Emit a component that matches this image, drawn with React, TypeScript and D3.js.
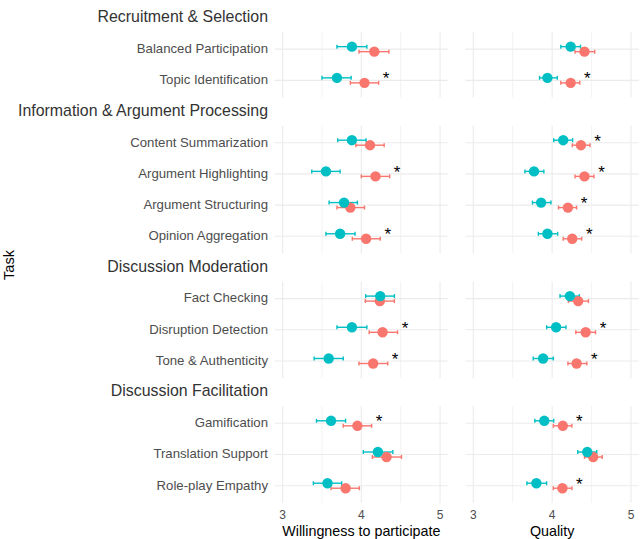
import * as d3 from "d3";

// Task groups and rows (top to bottom)
const groupNames = [
  "Recruitment & Selection",
  "Information & Argument Processing",
  "Discussion Moderation",
  "Discussion Facilitation",
];
const groupSizes = [2, 4, 3, 3];
const tasks = [
  "Balanced Participation",
  "Topic Identification",
  "Content Summarization",
  "Argument Highlighting",
  "Argument Structuring",
  "Opinion Aggregation",
  "Fact Checking",
  "Disruption Detection",
  "Tone & Authenticity",
  "Gamification",
  "Translation Support",
  "Role-play Empathy",
];

// Willingness to participate
const willTeal = [3.88, 3.69, 3.88, 3.55, 3.78, 3.73, 4.24, 3.88, 3.585, 3.615, 4.21, 3.57];
const willTealLo = [3.69, 3.5, 3.7, 3.37, 3.59, 3.55, 4.055, 3.69, 3.4, 3.43, 4.025, 3.39];
const willTealHi = [4.07, 3.87, 4.06, 3.73, 3.95, 3.92, 4.42, 4.07, 3.77, 3.8, 4.4, 3.75];
const willRed = [4.165, 4.04, 4.11, 4.18, 3.86, 4.06, 4.235, 4.27, 4.15, 3.95, 4.32, 3.8];
const willRedLo = [3.97, 3.86, 3.93, 4.0, 3.69, 3.885, 4.05, 4.1, 3.97, 3.77, 4.14, 3.615];
const willRedHi = [4.35, 4.22, 4.29, 4.36, 4.04, 4.24, 4.42, 4.46, 4.335, 4.13, 4.51, 3.975];
const willSig = [false, true, false, true, false, true, false, true, true, true, false, false];

// Quality
const qualTeal = [4.235, 3.94, 4.14, 3.77, 3.86, 3.94, 4.225, 4.05, 3.885, 3.9, 4.445, 3.8];
const qualTealLo = [4.11, 3.84, 4.02, 3.655, 3.75, 3.825, 4.1, 3.93, 3.76, 3.78, 4.325, 3.68];
const qualTealHi = [4.36, 4.065, 4.26, 3.895, 3.985, 4.07, 4.345, 4.175, 4.015, 4.02, 4.565, 3.93];
const qualRed = [4.41, 4.235, 4.365, 4.41, 4.2, 4.255, 4.33, 4.425, 4.31, 4.135, 4.52, 4.13];
const qualRedLo = [4.29, 4.11, 4.255, 4.29, 4.08, 4.14, 4.205, 4.3, 4.2, 4.015, 4.41, 4.015];
const qualRedHi = [4.54, 4.35, 4.48, 4.53, 4.31, 4.375, 4.46, 4.55, 4.44, 4.25, 4.635, 4.25];
const qualSig = [false, true, true, true, true, true, false, true, true, true, false, true];

const xTicks = [3, 4, 5];
const xMinor = [3.5, 4.5];

const TEAL = "#00BFC4";
const RED = "#F8766D";
const GRID = "#ebebeb";
const FONT = "'Liberation Sans', Arial, Helvetica, sans-serif";

const W = 640;
const H = 539;
const STEP = 31.2;
const PAD = 0.55;
const GAP = 28;
const FIRST_TOP = 32;

type Panel = {
  title: string;
  x: d3.ScaleLinear<number, number>;
  teal: number[];
  tealLo: number[];
  tealHi: number[];
  red: number[];
  redLo: number[];
  redHi: number[];
  sig: boolean[];
};

const panels: Panel[] = [
  {
    title: "Willingness to participate",
    x: d3.scaleLinear().domain([2.9, 5.1]).range([274.8, 447.9]),
    teal: willTeal,
    tealLo: willTealLo,
    tealHi: willTealHi,
    red: willRed,
    redLo: willRedLo,
    redHi: willRedHi,
    sig: willSig,
  },
  {
    title: "Quality",
    x: d3.scaleLinear().domain([2.9, 5.1]).range([465.4, 638.9]),
    teal: qualTeal,
    tealLo: qualTealLo,
    tealHi: qualTealHi,
    red: qualRed,
    redLo: qualRedLo,
    redHi: qualRedHi,
    sig: qualSig,
  },
];

export default function App() {
  // one y scale per group facet
  let top = FIRST_TOP;
  let start = 0;
  const facets = groupSizes.map((n, g) => {
    const h = (n - 1 + 2 * PAD) * STEP;
    const y = d3.scaleLinear().domain([-PAD, n - 1 + PAD]).range([top, top + h]);
    const f = { name: groupNames[g], y, top, bottom: top + h, rows: d3.range(start, start + n), first: start };
    top += h + GAP;
    start += n;
    return f;
  });
  const rowY = (i: number) => {
    const f = facets.find((ff) => i >= ff.first && i < ff.first + ff.rows.length)!;
    return f.y(i - f.first);
  };
  const bottom = facets[facets.length - 1].bottom;
  const dodge = 2.5;
  const cap = 2;

  return (
    <svg
      width={W}
      height={H}
      style={{ position: "absolute", left: 0, top: 0, fontFamily: FONT, background: "#fff" }}
    >
      {/* group headers */}
      {facets.map((f) => (
        <text key={f.name} x={268} y={f.top - 15.5} dy="0.35em" textAnchor="end" fontSize={15.9} fill="#333">
          {f.name}
        </text>
      ))}

      {/* row labels */}
      {tasks.map((t, i) => (
        <text key={t} x={268} y={rowY(i) - 0.8} dy="0.35em" textAnchor="end" fontSize={13.2} fill="#4d4d4d">
          {t}
        </text>
      ))}

      <text
        transform={`translate(13.5,265) rotate(-90)`}
        textAnchor="middle"
        fontSize={14.5}
        fill="#000"
      >
        Task
      </text>

      {panels.map((p) => (
        <g key={p.title}>
          {facets.map((f) => (
            <g key={f.name}>
              {xMinor.map((v) => (
                <line key={v} x1={p.x(v)} x2={p.x(v)} y1={f.top} y2={f.bottom} stroke={GRID} strokeWidth={0.6} />
              ))}
              {xTicks.map((v) => (
                <line key={v} x1={p.x(v)} x2={p.x(v)} y1={f.top} y2={f.bottom} stroke={GRID} strokeWidth={1.1} />
              ))}
              {f.rows.map((i) => (
                <line
                  key={i}
                  x1={p.x.range()[0]}
                  x2={p.x.range()[1]}
                  y1={rowY(i)}
                  y2={rowY(i)}
                  stroke={GRID}
                  strokeWidth={1.1}
                />
              ))}
            </g>
          ))}

          {/* error bars */}
          {tasks.map((t, i) => {
            const yr = rowY(i) + dodge;
            const yt = rowY(i) - dodge;
            return (
              <g key={t} strokeWidth={1.4}>
                <g stroke={RED}>
                  <line x1={p.x(p.redLo[i])} x2={p.x(p.redHi[i])} y1={yr} y2={yr} />
                  <line x1={p.x(p.redLo[i])} x2={p.x(p.redLo[i])} y1={yr - cap} y2={yr + cap} />
                  <line x1={p.x(p.redHi[i])} x2={p.x(p.redHi[i])} y1={yr - cap} y2={yr + cap} />
                </g>
                <g stroke={TEAL}>
                  <line x1={p.x(p.tealLo[i])} x2={p.x(p.tealHi[i])} y1={yt} y2={yt} />
                  <line x1={p.x(p.tealLo[i])} x2={p.x(p.tealLo[i])} y1={yt - cap} y2={yt + cap} />
                  <line x1={p.x(p.tealHi[i])} x2={p.x(p.tealHi[i])} y1={yt - cap} y2={yt + cap} />
                </g>
              </g>
            );
          })}

          {/* points */}
          {tasks.map((t, i) => (
            <circle key={"r" + t} cx={p.x(p.red[i])} cy={rowY(i) + dodge} r={5.2} fill={RED} />
          ))}
          {tasks.map((t, i) => (
            <circle key={"t" + t} cx={p.x(p.teal[i])} cy={rowY(i) - dodge} r={5.2} fill={TEAL} />
          ))}

          {/* significance stars */}
          {tasks.map((t, i) =>
            p.sig[i] ? (
              <text
                key={"s" + t}
                x={p.x(Math.max(p.redHi[i], p.tealHi[i]) + 0.095)}
                y={rowY(i) + 4}
                textAnchor="middle"
                fontSize={17}
                fill="#000"
              >
                *
              </text>
            ) : null,
          )}

          {/* x axis */}
          {xTicks.map((v) => (
            <text key={v} x={p.x(v)} y={bottom + 12} dy="0.35em" textAnchor="middle" fontSize={12} fill="#4d4d4d">
              {v}
            </text>
          ))}
          <text
            x={(p.x.range()[0] + p.x.range()[1]) / 2}
            y={bottom + 28}
            dy="0.35em"
            textAnchor="middle"
            fontSize={14.3}
            fill="#000"
          >
            {p.title}
          </text>
        </g>
      ))}
    </svg>
  );
}
